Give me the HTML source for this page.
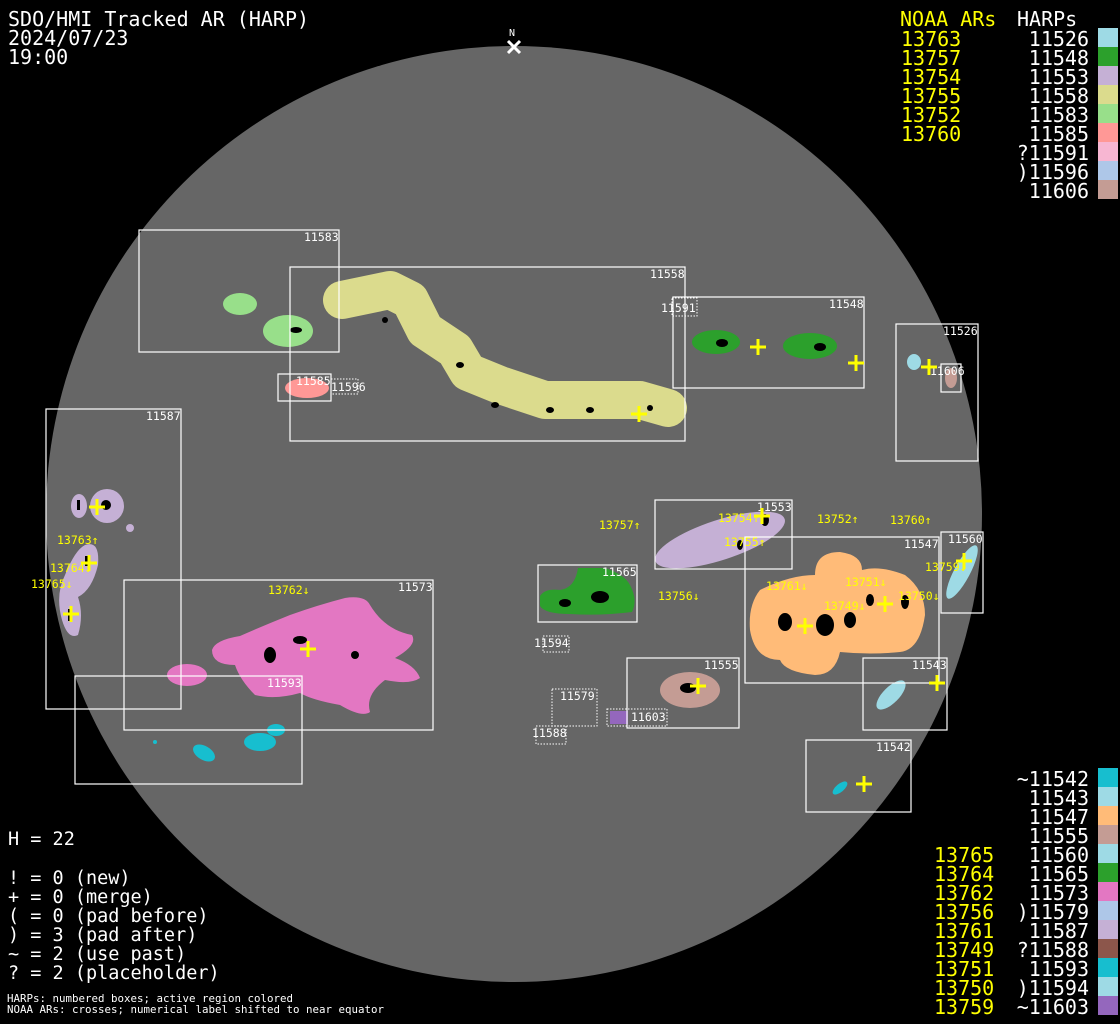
<!DOCTYPE html>
<html><head><meta charset="utf-8"><style>
html,body{margin:0;padding:0;background:#000;}
svg{display:block}
text{font-family:"DejaVu Sans Mono","Liberation Mono",monospace;}
.b{font-size:20px;fill:#fff}
.y{font-size:20px;fill:#ffff00}
.l{font-size:18.5px;fill:#fff}
.s{font-size:11.5px;fill:#fff}
.sy{font-size:11.5px;fill:#ffff00}
.box{fill:none;stroke:#fff;stroke-width:1.2}
.dot{fill:none;stroke:#fff;stroke-width:1;stroke-dasharray:1.5 1.5}
.cr{stroke:#ffff00;stroke-width:3}
.k{fill:#000}
</style></head><body>
<svg width="1120" height="1024" viewBox="0 0 1120 1024" xmlns="http://www.w3.org/2000/svg">
<rect width="1120" height="1024" fill="#000"/>
<circle cx="514" cy="514" r="468" fill="#666"/>

<g>
<ellipse cx="240" cy="304" rx="17" ry="11" fill="#98df8a"/>
<ellipse cx="288" cy="331" rx="25" ry="16" fill="#98df8a"/>
<path d="M342,300 L390,290 L410,300 L425,330 L455,350 L468,372 L500,385 L545,400 L590,400 L640,400 L668,408" fill="none" stroke="#dbdb8d" stroke-width="38" stroke-linecap="round" stroke-linejoin="round"/>
<ellipse cx="716" cy="342" rx="24" ry="12" fill="#2ca02c"/>
<ellipse cx="810" cy="346" rx="27" ry="13" fill="#2ca02c"/>
<ellipse cx="914" cy="362" rx="7" ry="8" fill="#9edae5"/>
<ellipse cx="951" cy="378" rx="6" ry="10" fill="#c49c94"/>
<ellipse cx="307" cy="388" rx="22" ry="10" fill="#ff9896"/>
<circle cx="107" cy="506" r="17" fill="#c5b0d5"/>
<ellipse cx="79" cy="506" rx="8" ry="12" fill="#c5b0d5"/>
<circle cx="130" cy="528" r="4" fill="#c5b0d5"/>
<path d="M85,545 Q100,540 98,565 Q92,590 78,597 Q84,615 78,635 Q68,640 62,620 Q55,595 65,575 Q75,550 85,545Z" fill="#c5b0d5"/>
<ellipse cx="720" cy="540" rx="68" ry="20" transform="rotate(-18 720 540)" fill="#c5b0d5"/>
<path d="M760,590 Q790,575 815,575 Q815,552 840,552 Q862,555 862,570 Q880,565 905,575 Q925,590 925,615 Q920,650 900,652 Q870,655 840,652 Q835,675 815,675 Q785,672 780,660 Q755,660 750,630 Q748,605 760,590Z" fill="#ffbb78"/>
<ellipse cx="962" cy="572" rx="8" ry="30" transform="rotate(28 962 572)" fill="#9edae5"/>
<path d="M540,596 Q545,588 560,590 Q575,588 578,568 L605,568 Q625,575 630,585 Q638,600 632,612 Q600,616 570,614 Q545,614 540,606Z" fill="#2ca02c"/>
<path d="M212,650 Q215,640 240,636 Q265,625 290,615 Q318,605 345,598 Q365,595 370,605 Q385,630 412,635 Q418,645 395,658 Q415,665 420,678 Q410,685 385,680 Q365,695 370,712 Q362,718 340,705 Q312,700 300,693 Q275,700 255,695 Q240,680 235,665 Q212,665 212,650Z" fill="#e377c2"/>
<ellipse cx="187" cy="675" rx="20" ry="11" fill="#e377c2"/>
<ellipse cx="690" cy="690" rx="30" ry="18" fill="#c49c94"/>
<ellipse cx="891" cy="695" rx="8" ry="19" transform="rotate(45 891 695)" fill="#9edae5"/>
<ellipse cx="260" cy="742" rx="16" ry="9" fill="#17becf"/>
<ellipse cx="276" cy="730" rx="9" ry="6" fill="#17becf"/>
<ellipse cx="204" cy="753" rx="12" ry="7" transform="rotate(30 204 753)" fill="#17becf"/>
<circle cx="155" cy="742" r="2" fill="#17becf"/>
<ellipse cx="840" cy="788" rx="4" ry="9" transform="rotate(50 840 788)" fill="#17becf"/>
<rect x="610" y="711" width="18" height="13" fill="#9467bd"/>
</g>

<g class="k">
<circle cx="106" cy="505" r="5"/><rect x="77" y="500" width="3" height="10"/>
<rect x="85" y="556" width="4" height="10"/><rect x="68" y="609" width="4" height="12"/>
<ellipse cx="825" cy="625" rx="9" ry="11"/><ellipse cx="785" cy="622" rx="7" ry="9"/><ellipse cx="850" cy="620" rx="6" ry="8"/><ellipse cx="870" cy="600" rx="4" ry="6"/><ellipse cx="905" cy="602" rx="4" ry="7"/>
<ellipse cx="270" cy="655" rx="6" ry="8"/><ellipse cx="355" cy="655" rx="4" ry="4"/><ellipse cx="300" cy="640" rx="7" ry="4"/>
<ellipse cx="688" cy="688" rx="8" ry="5"/><circle cx="650" cy="408" r="3"/><circle cx="385" cy="320" r="3"/>
<ellipse cx="820" cy="347" rx="6" ry="4"/><ellipse cx="722" cy="343" rx="6" ry="4"/><ellipse cx="296" cy="330" rx="6" ry="3"/>
<ellipse cx="765" cy="520" rx="4" ry="6"/><ellipse cx="740" cy="545" rx="3" ry="5"/>
<ellipse cx="600" cy="597" rx="9" ry="6"/><ellipse cx="565" cy="603" rx="6" ry="4"/>
<ellipse cx="495" cy="405" rx="4" ry="3"/><ellipse cx="460" cy="365" rx="4" ry="3"/><ellipse cx="550" cy="410" rx="4" ry="3"/><ellipse cx="590" cy="410" rx="4" ry="3"/>
</g>

<g>
<rect class="box" x="139" y="230" width="200" height="122"/>
<rect class="box" x="290" y="267" width="395" height="174"/>
<rect class="dot" x="672" y="298" width="25" height="18"/>
<rect class="box" x="673" y="297" width="191" height="91"/>
<rect class="box" x="896" y="324" width="82" height="137"/>
<rect class="box" x="941" y="364" width="20" height="28"/>
<rect class="box" x="278" y="374" width="53" height="27"/>
<rect class="dot" x="331" y="379" width="27" height="15"/>
<rect class="box" x="46" y="409" width="135" height="300"/>
<rect class="box" x="655" y="500" width="137" height="69"/>
<rect class="box" x="745" y="537" width="194" height="146"/>
<rect class="box" x="941" y="532" width="42" height="81"/>
<rect class="box" x="538" y="565" width="99" height="57"/>
<rect class="box" x="124" y="580" width="309" height="150"/>
<rect class="dot" x="543" y="636" width="26" height="16"/>
<rect class="box" x="627" y="658" width="112" height="70"/>
<rect class="box" x="863" y="658" width="84" height="72"/>
<rect class="box" x="75" y="676" width="227" height="108"/>
<rect class="dot" x="552" y="689" width="45" height="37"/>
<rect class="dot" x="607" y="709" width="60" height="17"/>
<rect class="dot" x="536" y="726" width="30" height="18"/>
<rect class="box" x="806" y="740" width="105" height="72"/>
</g>
<g class="s">
<text x="304" y="241">11583</text><text x="650" y="278">11558</text><text x="661" y="312">11591</text>
<text x="829" y="308">11548</text><text x="943" y="335">11526</text><text x="930" y="375">11606</text>
<text x="296" y="385">11585</text><text x="331" y="391">11596</text><text x="146" y="420">11587</text>
<text x="757" y="511">11553</text><text x="904" y="548">11547</text><text x="948" y="543">11560</text>
<text x="602" y="576">11565</text><text x="398" y="591">11573</text><text x="534" y="647">11594</text>
<text x="704" y="669">11555</text><text x="912" y="669">11543</text><text x="267" y="687">11593</text>
<text x="560" y="700">11579</text><text x="631" y="721">11603</text><text x="532" y="737">11588</text>
<text x="876" y="751">11542</text>
</g>

<g class="cr">
<path d="M89,507h16M97,499v16 M81,563h16M89,555v16 M63,614h16M71,606v16 M300,649h16M308,641v16 M750,347h16M758,339v16 M848,363h16M856,355v16 M921,367h16M929,359v16 M631,414h16M639,406v16 M754,516h16M762,508v16 M797,626h16M805,618v16 M877,604h16M885,596v16 M956,561h16M964,553v16 M690,686h16M698,678v16 M929,683h16M937,675v16 M856,784h16M864,776v16"/>
</g>
<g class="sy">
<text x="599" y="529">13757↑</text><text x="817" y="523">13752↑</text><text x="890" y="524">13760↑</text>
<text x="718" y="522">13754↑</text><text x="724" y="546">13755↑</text><text x="57" y="544">13763↑</text>
<text x="50" y="572">13764↓</text><text x="31" y="588">13765↓</text><text x="268" y="594">13762↓</text>
<text x="658" y="600">13756↓</text><text x="766" y="590">13761↓</text><text x="845" y="586">13751↓</text>
<text x="824" y="610">13749↓</text><text x="898" y="600">13750↓</text><text x="925" y="571">13759↓</text>
</g>

<text x="509" y="36" style="font-size:10px;fill:#fff">N</text>
<path d="M508,41l12,12M520,41l-12,12" stroke="#fff" stroke-width="3"/>

<g class="b"><text x="8" y="26">SDO/HMI Tracked AR (HARP)</text><text x="8" y="45">2024/07/23</text><text x="8" y="64">19:00</text></g>

<text class="y" x="900" y="26">NOAA ARs</text><text class="b" x="1017" y="26">HARPs</text>
<g class="y"><text x="901" y="46">13763</text><text x="901" y="65">13757</text><text x="901" y="84">13754</text><text x="901" y="103">13755</text><text x="901" y="122">13752</text><text x="901" y="141">13760</text></g>
<g class="b" text-anchor="end"><text x="1089" y="46">11526</text><text x="1089" y="65">11548</text><text x="1089" y="84">11553</text><text x="1089" y="103">11558</text><text x="1089" y="122">11583</text><text x="1089" y="141">11585</text><text x="1089" y="160">?11591</text><text x="1089" y="179">)11596</text><text x="1089" y="198">11606</text></g>
<g>
<rect x="1098" y="28" width="20" height="19" fill="#9edae5"/><rect x="1098" y="47" width="20" height="19" fill="#2ca02c"/><rect x="1098" y="66" width="20" height="19" fill="#c5b0d5"/><rect x="1098" y="85" width="20" height="19" fill="#dbdb8d"/><rect x="1098" y="104" width="20" height="19" fill="#98df8a"/><rect x="1098" y="123" width="20" height="19" fill="#ff9896"/><rect x="1098" y="142" width="20" height="19" fill="#f7b6d2"/><rect x="1098" y="161" width="20" height="19" fill="#aec7e8"/><rect x="1098" y="180" width="20" height="19" fill="#c49c94"/>
</g>

<g class="b" text-anchor="end"><text x="1089" y="786">~11542</text><text x="1089" y="805">11543</text><text x="1089" y="824">11547</text><text x="1089" y="843">11555</text><text x="1089" y="862">11560</text><text x="1089" y="881">11565</text><text x="1089" y="900">11573</text><text x="1089" y="919">)11579</text><text x="1089" y="938">11587</text><text x="1089" y="957">?11588</text><text x="1089" y="976">11593</text><text x="1089" y="995">)11594</text><text x="1089" y="1014">~11603</text></g>
<g class="y"><text x="934" y="862">13765</text><text x="934" y="881">13764</text><text x="934" y="900">13762</text><text x="934" y="919">13756</text><text x="934" y="938">13761</text><text x="934" y="957">13749</text><text x="934" y="976">13751</text><text x="934" y="995">13750</text><text x="934" y="1014">13759</text></g>
<g>
<rect x="1098" y="768" width="20" height="19" fill="#17becf"/><rect x="1098" y="787" width="20" height="19" fill="#9edae5"/><rect x="1098" y="806" width="20" height="19" fill="#ffbb78"/><rect x="1098" y="825" width="20" height="19" fill="#c49c94"/><rect x="1098" y="844" width="20" height="19" fill="#9edae5"/><rect x="1098" y="863" width="20" height="19" fill="#2ca02c"/><rect x="1098" y="882" width="20" height="19" fill="#e377c2"/><rect x="1098" y="901" width="20" height="19" fill="#aec7e8"/><rect x="1098" y="920" width="20" height="19" fill="#c5b0d5"/><rect x="1098" y="939" width="20" height="19" fill="#8c564b"/><rect x="1098" y="958" width="20" height="19" fill="#17becf"/><rect x="1098" y="977" width="20" height="19" fill="#9edae5"/><rect x="1098" y="996" width="20" height="19" fill="#9467bd"/>
</g>

<g class="l"><text x="8" y="845">H = 22</text><text x="8" y="884">! = 0 (new)</text><text x="8" y="903">+ = 0 (merge)</text><text x="8" y="922">( = 0 (pad before)</text><text x="8" y="941">) = 3 (pad after)</text><text x="8" y="960">~ = 2 (use past)</text><text x="8" y="979">? = 2 (placeholder)</text></g>
<g style="font-size:10.8px;fill:#fff"><text x="7" y="1002">HARPs: numbered boxes; active region colored</text><text x="7" y="1013">NOAA ARs: crosses; numerical label shifted to near equator</text></g>
</svg>
</body></html>
